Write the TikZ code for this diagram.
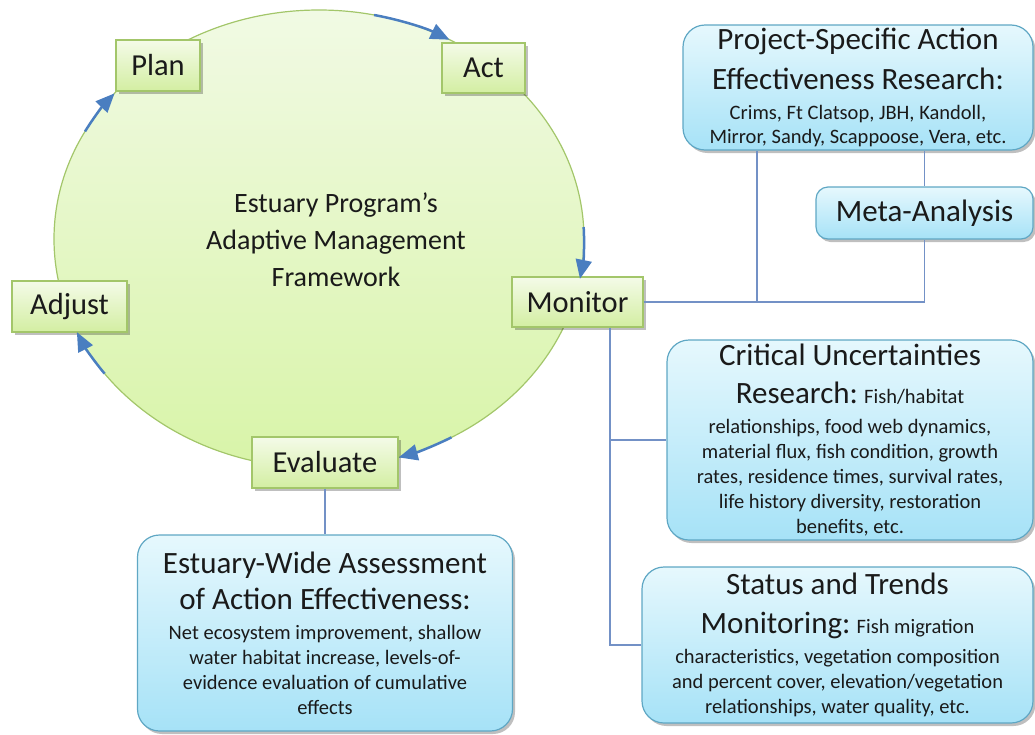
\documentclass[tikz,border=0pt]{standalone}
\usepackage{fontspec}
\setmainfont{Carlito}
\usetikzlibrary{shapes.geometric,shadows,arrows.meta,calc}
\definecolor{arrowblue}{HTML}{4A7EC0}
\definecolor{linkblue}{HTML}{7391C6}
\definecolor{greenline}{HTML}{A3C66A}
\definecolor{greentop}{HTML}{F4FBE8}
\definecolor{greenbot}{HTML}{D3EEA2}
\definecolor{circtop}{HTML}{F1FAE4}
\definecolor{circbot}{HTML}{D8F4A8}
\definecolor{blueline}{HTML}{5FA7C4}
\definecolor{bluetop}{HTML}{E6F8FD}
\definecolor{bluebot}{HTML}{A6E2F7}
\definecolor{textdark}{HTML}{1A1A1A}
\newcommand\titlef{\fontsize{31}{38}\selectfont}
\newcommand\smallf{\fontsize{20.5}{25}\selectfont\lineskiplimit=-100pt\lineskip=0pt}
\begin{document}
\begin{tikzpicture}[x=1pt,y=-1pt,
  shadowed/.style={drop shadow={shadow xshift=2.5pt,shadow yshift=-3pt,opacity=0.25,fill=black}},
  cyclebody/.style={ellipse,draw=greenline,line width=1.2pt,top color=circtop,bottom color=circbot,
    minimum width=530,minimum height=458,inner sep=0pt},
  cycletext/.style={align=center,text=textdark,inner sep=0pt,font=\fontsize{28}{37}\selectfont},
  greenbox/.style={rectangle,draw=greenline,line width=1.2pt,top color=greentop,bottom color=greenbot,
    shadowed,inner sep=0pt,text=textdark,font=\fontsize{30.5}{36}\selectfont},
  bluebox/.style={rectangle,rounded corners=22pt,draw=blueline,line width=1.2pt,top color=bluetop,
    bottom color=bluebot,shadowed,inner sep=0pt,align=center,text=textdark,font=\smallf},
  cyc/.style={arrowblue,line width=2.5pt,-{Triangle[length=19pt,width=16pt]}},
  conn/.style={linkblue,line width=1.6pt}]
\useasboundingbox (0,0) rectangle (1035,734);

% central cycle
\node[cyclebody] (cycle) at (319,239) {};
\node[cycletext] (cyclelabel) at (336,240) {Estuary Program’s\\Adaptive Management\\Framework};

\coordinate (jp) at (757,302);
\coordinate (ml) at (610,440);

% green step boxes
\node[greenbox,minimum width=84,minimum height=51] (plan) at (158,65.5) {Plan};
\node[greenbox,minimum width=83,minimum height=50] (act) at (483.5,68) {Act};
\node[greenbox,minimum width=131,minimum height=50] (monitor) at (577.5,302) {Monitor};
\node[greenbox,minimum width=146,minimum height=51] (evaluate) at (325,462.5) {Evaluate};
\node[greenbox,minimum width=115,minimum height=51] (adjust) at (69.5,306.5) {Adjust};

% cycle arrows
\draw[cyc] ([shift={(-78:265 and 229)}]cycle.center) arc[start angle=-78,end angle=-60.5,x radius=265,y radius=229];
\draw[cyc] ([shift={(-3:265 and 229)}]cycle.center) arc[start angle=-3,end angle=10,x radius=265,y radius=229];
\draw[cyc] ([shift={(60:265 and 229)}]cycle.center) arc[start angle=60,end angle=72.5,x radius=265,y radius=229];
\draw[cyc] ([shift={(144:265 and 229)}]cycle.center) arc[start angle=144,end angle=156,x radius=265,y radius=229];
\draw[cyc] ([shift={(-152:265 and 229)}]cycle.center) arc[start angle=-152,end angle=-140.5,x radius=265,y radius=229];

% blue boxes
\node[bluebox,minimum width=350,minimum height=125] (project) at (858,87.5)
  {{\titlef Project-Specific Action}\\[15pt]{\titlef Effectiveness Research:}\\[5pt]Crims, Ft Clatsop, JBH, Kandoll,\\[-1pt]Mirror, Sandy, Scappoose, Vera, etc.};
\node[bluebox,rounded corners=12pt,minimum width=217,minimum height=52,font=\fontsize{31}{38}\selectfont] (meta) at (924.5,213) {Meta-Analysis};
\node[bluebox,minimum width=366,minimum height=200] (critical) at (850,440)
  {{\titlef Critical Uncertainties}\\[13pt]{\titlef Research:} Fish/habitat\\[5pt]relationships, food web dynamics,\\material flux, fish condition, growth\\rates, residence times, survival rates,\\life history diversity, restoration\\benefits, etc.};
\node[bluebox,minimum width=391,minimum height=156] (status) at (837.5,645)
  {{\titlef Status and Trends}\\[14pt]{\titlef Monitoring:} Fish migration\\[5pt]characteristics, vegetation composition\\and percent cover, elevation/vegetation\\relationships, water quality, etc.};
\node[bluebox,minimum width=375,minimum height=196] (estuary) at (325,633)
  {{\titlef Estuary-Wide Assessment}\\[11pt]{\titlef of Action Effectiveness:}\\[5pt]Net ecosystem improvement, shallow\\water habitat increase, levels-of-\\evidence evaluation of cumulative\\effects};

% connectors
\draw[conn] (monitor.east) -- (monitor.east -| meta.south) -- (meta.south);
\draw[conn] (jp) -- (jp |- project.south);
\draw[conn] (meta.north |- project.south) -- (meta.north);
\draw[conn] (ml |- monitor.south) -- (ml |- status.west) -- (status.west);
\draw[conn] (ml) -- (ml -| critical.west);
\draw[conn] (evaluate.south) -- (estuary.north);
\end{tikzpicture}
\end{document}
